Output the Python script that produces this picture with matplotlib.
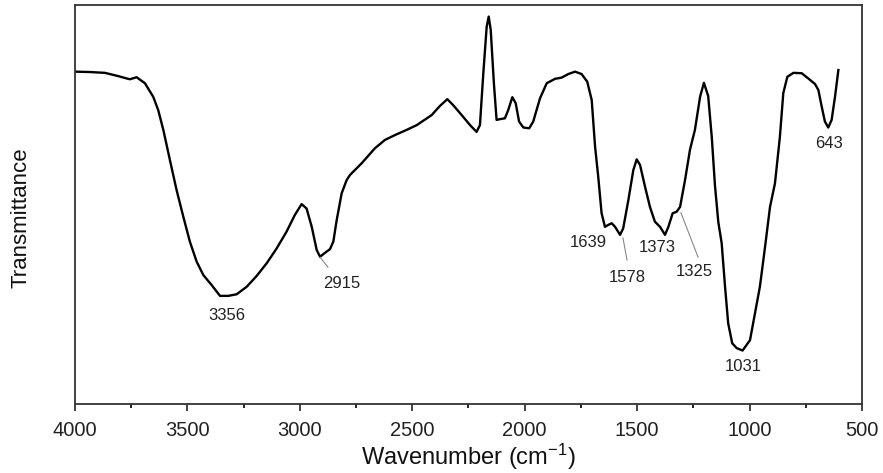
import numpy as np
import matplotlib.pyplot as plt
from matplotlib.ticker import MultipleLocator, NullLocator

plt.rcParams['font.family'] = ['Liberation Sans', 'DejaVu Sans']
plt.rcParams['mathtext.default'] = 'regular'

# spectrum (wavenumber in cm-1, transmittance a.u.)
wn = [4000, 3933, 3867, 3809, 3764, 3755, 3726, 3689, 3652, 3630, 3607, 3578,
      3548, 3518, 3489, 3459, 3429, 3392, 3355, 3318, 3281, 3236, 3192, 3147,
      3103, 3059, 3022, 2992, 2970, 2947, 2925, 2910, 2888, 2866, 2851, 2836,
      2814, 2792, 2777, 2724, 2666, 2621, 2577, 2525, 2480, 2451, 2414, 2377,
      2344, 2318, 2280, 2243, 2214, 2199, 2184, 2169, 2160, 2151, 2137, 2125,
      2110, 2088, 2073, 2055, 2040, 2025, 2006, 1980, 1962, 1932, 1902, 1865,
      1836, 1806, 1776, 1747, 1722, 1702, 1687, 1673, 1658, 1643, 1628, 1613,
      1598, 1576, 1562, 1539, 1517, 1502, 1487, 1465, 1443, 1421, 1398, 1376,
      1361, 1342, 1324, 1309, 1287, 1265, 1243, 1220, 1203, 1184, 1168, 1154,
      1139, 1124, 1109, 1095, 1077, 1057, 1031, 998, 976, 954, 931, 909,
      887, 865, 850, 832, 805, 768, 739, 709, 694, 679, 665, 650,
      635, 620, 605]
T = [83.3, 83.2, 83.0, 82.2, 81.5, 81.4, 81.9, 80.4, 77.0, 73.7, 68.7, 61.2,
     53.6, 46.9, 40.7, 35.7, 32.3, 29.8, 27.1, 27.1, 27.5, 29.4, 32.1, 35.3,
     39.0, 43.2, 47.4, 50.1, 49.0, 44.4, 38.6, 36.9, 37.9, 38.8, 40.7, 46.1,
     52.8, 56.1, 57.4, 60.4, 64.1, 66.2, 67.4, 68.7, 69.9, 71.0, 72.4, 74.7,
     76.4, 74.9, 72.4, 69.9, 68.2, 69.9, 82.9, 94.6, 97.1, 93.7, 80.4, 71.2,
     71.4, 71.6, 73.7, 76.9, 75.4, 70.8, 69.3, 69.1, 70.8, 76.6, 80.4, 81.5,
     81.8, 82.7, 83.3, 82.7, 80.8, 76.2, 64.5, 57.0, 47.8, 44.4, 44.9, 45.3,
     44.4, 42.4, 44.0, 51.1, 58.6, 61.3, 59.9, 54.5, 49.4, 45.7, 44.4, 42.4,
     44.4, 47.8, 48.2, 49.4, 56.1, 63.7, 68.7, 77.0, 80.5, 77.2, 66.9, 54.9,
     45.6, 40.3, 29.4, 20.2, 15.2, 14.0, 13.4, 16.0, 22.7, 29.4, 39.4, 49.4,
     55.3, 67.0, 77.9, 82.0, 83.0, 82.9, 81.6, 80.2, 78.7, 74.5, 70.8, 69.3,
     71.2, 77.0, 83.7]

# peak labels and where they sit
peak_labels = ['3356', '2915', '1639', '1578', '1373', '1325', '1031', '643']
label_x = [3324, 2813, 1719, 1545, 1412, 1247, 1029, 647]
label_y = [22.3, 30.3, 40.6, 31.8, 39.1, 33.3, 9.3, 65.4]

# thin leader lines (x0, x1, y0, y1)
leaders = [
    (2910, 2875, 36.8, 34.3),
    (1563, 1545, 41.6, 36.1),
    (1305, 1229, 47.9, 36.8),
]

fig = plt.figure(figsize=(8.83, 4.73), dpi=100)
ax = fig.add_axes([0.0849, 0.1459, 0.8913, 0.8435])

ax.plot(wn, T, color='black', lw=1.7)

for lab, x, y in zip(peak_labels, label_x, label_y):
    ax.text(x, y, lab, ha='center', va='center', fontsize=12, color='#222222')

for x0, x1, y0, y1 in leaders:
    ax.plot([x0, x1], [y0, y1], color='#888888', lw=0.8)

ax.set_xlim(4000, 500)
ax.set_ylim(0, 100)
ax.xaxis.set_major_locator(MultipleLocator(500))
ax.xaxis.set_minor_locator(MultipleLocator(250))
ax.yaxis.set_major_locator(NullLocator())
ax.tick_params(axis='x', which='major', direction='out', length=5, width=1.2,
               labelsize=14.5, pad=7, colors='#222222')
ax.tick_params(axis='x', which='minor', direction='out', length=3, width=1.2)
for s in ax.spines.values():
    s.set_linewidth(1.3)
    s.set_color('#333333')

ax.set_xlabel('Wavenumber (cm$^{-1}$)', fontsize=17, color='#111111')
ax.xaxis.set_label_coords(0.5, -0.095)
ax.xaxis.label.set_va('top')
ax.set_ylabel('Transmittance', fontsize=16, color='#111111')
ax.yaxis.set_label_coords(-0.055, 0.467)

fig.savefig('out.png', dpi=100)
